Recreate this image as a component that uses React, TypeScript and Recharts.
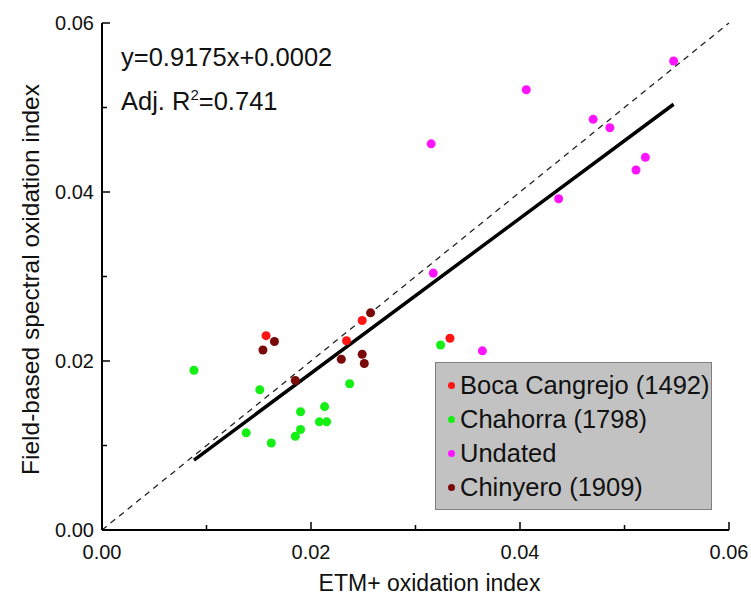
import React from "react";
import {
    ScatterChart,
    Scatter,
    XAxis,
    YAxis,
    ReferenceLine,
} from "recharts";

// --- Data ---

const BOCA_X = [0.0157, 0.0234, 0.0249, 0.0333];
const BOCA_Y = [0.0230, 0.0224, 0.0248, 0.0227];

const CHAHORRA_X = [0.0088, 0.0151, 0.0138, 0.0162, 0.0185, 0.0190, 0.0190, 0.0208, 0.0215, 0.0213, 0.0237, 0.0324];
const CHAHORRA_Y = [0.0189, 0.0166, 0.0115, 0.0103, 0.0111, 0.0119, 0.0140, 0.0128, 0.0128, 0.0146, 0.0173, 0.0219];

const UNDATED_X = [0.0547, 0.0406, 0.0470, 0.0486, 0.0315, 0.0520, 0.0511, 0.0437, 0.0317, 0.0364];
const UNDATED_Y = [0.0555, 0.0521, 0.0486, 0.0476, 0.0457, 0.0441, 0.0426, 0.0392, 0.0304, 0.0212];

const CHINYERO_X = [0.0154, 0.0165, 0.0185, 0.0229, 0.0249, 0.0251, 0.0257];
const CHINYERO_Y = [0.0213, 0.0223, 0.0177, 0.0202, 0.0208, 0.0197, 0.0257];

const AXIS_TICKS = [0, 0.01, 0.02, 0.03, 0.04, 0.05, 0.06];
const MAJOR_TICKS = [0, 0.02, 0.04, 0.06];

// fit y = 0.9175x + 0.0002 drawn over the data range
const FIT_SLOPE = 0.9175;
const FIT_INTERCEPT = 0.0002;
const FIT_X_RANGE = [0.0088, 0.0547];

const SERIES = [
    { name: "Boca Cangrejo (1492)", color: "#ff1414", xs: BOCA_X, ys: BOCA_Y },
    { name: "Chahorra (1798)", color: "#14f014", xs: CHAHORRA_X, ys: CHAHORRA_Y },
    { name: "Undated", color: "#ff14ff", xs: UNDATED_X, ys: UNDATED_Y },
    { name: "Chinyero (1909)", color: "#7a0a0a", xs: CHINYERO_X, ys: CHINYERO_Y },
];

// --- Constants ---

const FONT = "'Liberation Sans', Arial, sans-serif";
const WIDTH = 751;
const HEIGHT = 604;
const MAJOR_LEN = 8;
const MINOR_LEN = 5;

const isMajor = (v: number) => MAJOR_TICKS.some((m) => Math.abs(m - v) < 1e-9);

// --- Tick renderers (ticks point into the plot) ---

function BottomTick(props: any)
{
    const { x, y, payload } = props;
    const len = isMajor(payload.value) ? MAJOR_LEN : MINOR_LEN;
    return (
        <g>
            <line x1={x} y1={y} x2={x} y2={y - len} stroke="#000" strokeWidth={1.5} />
            {isMajor(payload.value) && (
                <text x={x} y={y + 29} textAnchor="middle" fontSize={20} fill="#111" fontFamily={FONT}>
                    {payload.value.toFixed(2)}
                </text>
            )}
        </g>
    );
}

function LeftTick(props: any)
{
    const { x, y, payload } = props;
    const len = isMajor(payload.value) ? MAJOR_LEN : MINOR_LEN;
    return (
        <g>
            <line x1={x} y1={y} x2={x + len} y2={y} stroke="#000" strokeWidth={1.5} />
            {isMajor(payload.value) && (
                <text x={x - 8} y={y + 7} textAnchor="end" fontSize={20} fill="#111" fontFamily={FONT}>
                    {payload.value.toFixed(2)}
                </text>
            )}
        </g>
    );
}

function TopTick(props: any)
{
    const { x, y, payload } = props;
    const len = isMajor(payload.value) ? MAJOR_LEN : MINOR_LEN;
    return <line x1={x} y1={y} x2={x} y2={y + len} stroke="#000" strokeWidth={1.5} />;
}

function RightTick(props: any)
{
    const { x, y, payload } = props;
    const len = isMajor(payload.value) ? MAJOR_LEN : MINOR_LEN;
    return <line x1={x} y1={y} x2={x - len} y2={y} stroke="#000" strokeWidth={1.5} />;
}

// --- Component ---

export default function App()
{
    const seriesData = SERIES.map((s) => ({
        ...s,
        points: s.xs.map((x, i) => ({ x, y: s.ys[i] })),
    }));

    const fitSegment = FIT_X_RANGE.map((x) => ({ x, y: FIT_SLOPE * x + FIT_INTERCEPT }));

    const axisLine = { stroke: "#000", strokeWidth: 2 };

    return (
        <div style={{ position: "fixed", left: 0, top: 0, width: WIDTH, height: HEIGHT, fontFamily: FONT, background: "#fff" }}>
            <ScatterChart
                width={WIDTH}
                height={HEIGHT}
                margin={{ top: 23, right: 22, bottom: 0, left: 0 }}
            >
                <XAxis
                    type="number"
                    dataKey="x"
                    domain={[0, 0.06]}
                    ticks={AXIS_TICKS}
                    interval={0}
                    height={74}
                    tickSize={0}
                    tickMargin={0}
                    tickLine={false}
                    axisLine={axisLine}
                    tick={<BottomTick />}
                    label={{
                        content: (p: any) => (
                            <text
                                x={p.viewBox.x + p.viewBox.width / 2 + 14}
                                y={p.viewBox.y + 61}
                                textAnchor="middle"
                                fontSize={23}
                                fill="#111"
                                fontFamily={FONT}
                            >
                                ETM+ oxidation index
                            </text>
                        ),
                    }}
                />
                <XAxis
                    xAxisId="top"
                    orientation="top"
                    type="number"
                    domain={[0, 0.06]}
                    ticks={AXIS_TICKS}
                    interval={0}
                    height={0}
                    tickSize={0}
                    tickMargin={0}
                    tickLine={false}
                    axisLine={axisLine}
                    tick={<TopTick />}
                />
                <YAxis
                    type="number"
                    dataKey="y"
                    domain={[0, 0.06]}
                    ticks={AXIS_TICKS}
                    interval={0}
                    width={102}
                    tickSize={0}
                    tickMargin={0}
                    tickLine={false}
                    axisLine={axisLine}
                    tick={<LeftTick />}
                    label={{
                        content: (p: any) => {
                            const cx = 30;
                            const cy = p.viewBox.y + p.viewBox.height / 2 + 3;
                            return (
                                <text
                                    x={cx}
                                    y={cy}
                                    transform={`rotate(-90 ${cx} ${cy})`}
                                    textAnchor="middle"
                                    dominantBaseline="central"
                                    fontSize={24.5}
                                    fill="#111"
                                    fontFamily={FONT}
                                >
                                    Field-based spectral oxidation index
                                </text>
                            );
                        },
                    }}
                />
                <YAxis
                    yAxisId="right"
                    orientation="right"
                    type="number"
                    domain={[0, 0.06]}
                    ticks={AXIS_TICKS}
                    interval={0}
                    width={0}
                    tickSize={0}
                    tickMargin={0}
                    tickLine={false}
                    axisLine={axisLine}
                    tick={<RightTick />}
                />

                <ReferenceLine
                    segment={[{ x: 0, y: 0 }, { x: 0.06, y: 0.06 }]}
                    stroke="#222"
                    strokeWidth={1.3}
                    strokeDasharray="6 5"
                />
                <ReferenceLine
                    segment={fitSegment}
                    stroke="#000"
                    strokeWidth={3.5}
                />

                {seriesData.map((s) => (
                    <Scatter
                        key={s.name}
                        name={s.name}
                        data={s.points}
                        fill={s.color}
                        shape="circle"
                        isAnimationActive={false}
                    />
                ))}
            </ScatterChart>

            {/* regression annotation */}
            <div style={{ position: "absolute", left: 121, top: 35, fontSize: 25.5, color: "#111", lineHeight: "44px" }}>
                <div>y=0.9175x+0.0002</div>
                <div>
                    Adj. R<sup style={{ fontSize: 15, verticalAlign: "10px", lineHeight: 0 }}>2</sup>=0.741
                </div>
            </div>

            {/* legend */}
            <div
                style={{
                    position: "absolute",
                    left: 435,
                    top: 362,
                    width: 277,
                    height: 148,
                    background: "#c2c2c2",
                    border: "1px solid #7f7f7f",
                    paddingTop: 5,
                    boxSizing: "border-box",
                }}
            >
                {SERIES.map((s) => (
                    <div key={s.name} style={{ display: "flex", alignItems: "center", height: 34, fontSize: 25.5, color: "#111" }}>
                        <span
                            style={{
                                display: "inline-block",
                                width: 7,
                                height: 7,
                                borderRadius: "50%",
                                background: s.color,
                                marginLeft: 12,
                                marginRight: 5,
                            }}
                        />
                        {s.name}
                    </div>
                ))}
            </div>
        </div>
    );
}
